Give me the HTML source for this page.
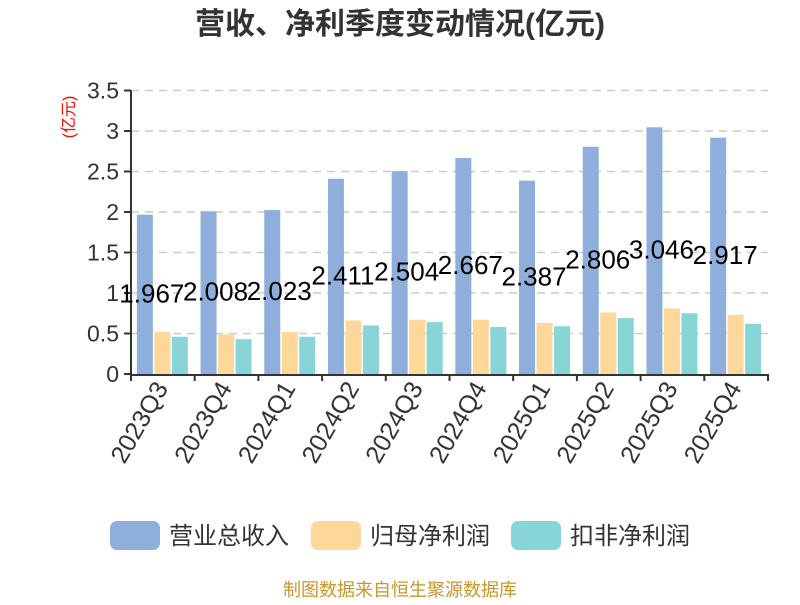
<!DOCTYPE html>
<html><head><meta charset="utf-8"><style>
body{margin:0;background:#fff;font-family:"Liberation Sans","Noto Sans CJK SC",sans-serif}
svg text{font-family:"Liberation Sans","Noto Sans CJK SC",sans-serif}
</style></head><body>
<svg id="c" width="800" height="600" xmlns="http://www.w3.org/2000/svg">
<text x="400" y="34" text-anchor="middle" font-size="30" font-weight="bold" fill="#333">营收、净利季度变动情况(亿元)</text>
<text transform="translate(74,117) rotate(-90)" text-anchor="middle" font-size="16" fill="#f00">(亿元)</text>
<g id="grid"></g><g id="bars"></g><g id="axes"></g><g id="labels"></g>
<g>
<rect x="110" y="521" width="50" height="29" rx="7" fill="#8eaedb"/>
<text x="169" y="544" font-size="24" fill="#333">营业总收入</text>
<rect x="311" y="521" width="50" height="29" rx="7" fill="#fed89a"/>
<text x="370" y="544" font-size="24" fill="#333">归母净利润</text>
<rect x="511" y="521" width="50" height="29" rx="7" fill="#88d5d8"/>
<text x="570" y="544" font-size="24" fill="#333">扣非净利润</text>
</g>
<text x="400" y="596" text-anchor="middle" font-size="18" fill="#c8962a">制图数据来自恒生聚源数据库</text>
</svg>
<script>
const categories=["2023Q3","2023Q4","2024Q1","2024Q2","2024Q3","2024Q4","2025Q1","2025Q2","2025Q3","2025Q4"];
const revenue=[1.967,2.008,2.023,2.411,2.504,2.667,2.387,2.806,3.046,2.917];
const netProfit=[0.52,0.49,0.52,0.66,0.67,0.67,0.63,0.76,0.81,0.73];
const deductedProfit=[0.46,0.43,0.46,0.60,0.64,0.58,0.59,0.69,0.75,0.62];
const yTicks=[0,0.5,1,1.5,2,2.5,3,3.5];
const yTickLabels=["0","0.5","1","1.5","2","2.5","3","3.5"];
const NS="http://www.w3.org/2000/svg";
const x0=131,x1=768,y0=374,yTop=90.5,yMax=3.5;
const cw=(x1-x0)/categories.length;
const y=v=>y0-(v/yMax)*(y0-yTop);
const cx=i=>x0+cw*(i+0.5);
function mk(t,a,p){const e=document.createElementNS(NS,t);for(const k in a)e.setAttribute(k,a[k]);document.getElementById(p).appendChild(e);return e;}
yTicks.forEach((v,i)=>{
 if(v>0){const g=mk('line',{x1:x0,x2:x1,y1:y(v),y2:y(v),stroke:'#ccc','stroke-width':1.5,'stroke-dasharray':'8,6'},'grid');
 
 }
 const t=mk('line',{x1:x0-7,x2:x0,y1:y(v),y2:y(v),stroke:'#333','stroke-width':2},'axes');
 
 
 const l=mk('text',{x:x0-12,y:y(v)+8,'text-anchor':'end','font-size':23,fill:'#333'},'axes');
 l.textContent=yTickLabels[i];
 
 
});
const series=[[revenue,'#8eaedb',-18],[netProfit,'#fed89a',-0.5],[deductedProfit,'#88d5d8',17]];
const bw=16;
categories.forEach((c,i)=>{
 series.forEach((s,j)=>{
  const v=s[0][i];
  const r=mk('rect',{x:cx(i)+s[2]-bw/2,y:y(v),width:bw,height:y0-y(v),fill:s[1]},'bars');
  
  
 });
 const vl=mk('text',{x:cx(i)-11,y:(y(revenue[i])+y0)/2+8,'text-anchor':'middle','font-size':26,fill:'#000'},'labels');
 vl.textContent=revenue[i].toFixed(3);
 
 
 const t=mk('line',{x1:x0+cw*i,x2:x0+cw*i,y1:y0,y2:y0+7,stroke:'#333','stroke-width':2},'axes');
 
 
 const xl=mk('text',{transform:`translate(${cx(i)+6},${y0+14}) rotate(-60)`,'text-anchor':'end','font-size':25,fill:'#333'},'axes');
 xl.textContent=c;
 
 
});
const lt=mk('line',{x1:x1,x2:x1,y1:y0,y2:y0+7,stroke:'#333','stroke-width':2},'axes');


const ya=mk('line',{x1:x0,x2:x0,y1:yTop,y2:y0+1,stroke:'#333','stroke-width':2},'axes');


const xa=mk('line',{x1:x0-1,x2:x1,y1:y0+1,y2:y0+1,stroke:'#333','stroke-width':2},'axes');


</script>
</body></html>
